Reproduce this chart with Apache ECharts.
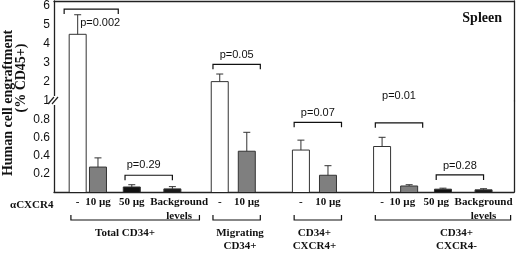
<!DOCTYPE html>
<html>
<head>
<meta charset="utf-8">
<script src="https://cdn.jsdelivr.net/npm/echarts@6/dist/echarts.min.js"></script>
<style>html,body{margin:0;padding:0;background:#fff}#c{width:520px;height:253px}</style>
</head>
<body>
<div id="c"></div>
<script>
// ---- data ----
const doseLabels = ['-', '10 µg', '50 µg', 'Background\nlevels', '-', '10 µg', '-', '10 µg', '-', '10 µg', '50 µg', 'Background\nlevels'];
const doseKind = ['none', '10', '50', 'bg', 'none', '10', 'none', '10', 'none', '10', '50', 'bg'];
const means = [4.51, 0.274, 0.055, 0.034, 2.02, 0.448, 0.461, 0.184, 0.50, 0.066, 0.031, 0.024];
const errs = [1.03, 0.101, 0.025, 0.025, 0.40, 0.208, 0.109, 0.105, 0.101, 0.014, 0.011, 0.012];
const groupNames = ['Total CD34+', 'Migrating\nCD34+', 'CD34+\nCXCR4+', 'CD34+\nCXCR4-'];
const pLabels = ['p=0.002', 'p=0.29', 'p=0.05', 'p=0.07', 'p=0.01', 'p=0.28'];
const pHeights = [5.84, 0.184, 2.93, 0.766, 0.76, 0.188];
const upperTicks = [1, 2, 3, 4, 5, 6];
const lowerTicks = [0.2, 0.4, 0.6, 0.8];

// ---- layout (category slots) ----
const slotCount = 68;
const barSlots = [3, 6, 11, 17, 24, 28, 36, 40, 48, 52, 57, 63];
const doseLabelSlots = [3, 6, 11, 18, 24, 28, 36, 40, 48, 51, 56, 63];
const groupSpans = [[2, 21], [23, 30], [35, 42], [47, 67]];
const groupLabelSlots = [10, 27, 38, 59];
const pSpans = [[1, 9], [10, 17], [23, 30], [35, 42], [47, 54], [56, 63]];
const pLabelLayout = [
  {dx: 16, dy: 14, align: 'left'}, {dx: -5, dy: -10}, {dx: 0, dy: -9},
  {dx: 0, dy: -9}, {dx: 0, dy: -27}, {dx: 0, dy: -9}
];
const colors = {none: '#ffffff', '10': '#7f7f7f', '50': '#111111', bg: '#1a1a1a'};
const LINE = '#222';
const SERIF = '"Liberation Serif", "DejaVu Serif", serif';
const SANS = '"Liberation Sans", Arial, sans-serif';
const BAR_W = 17;

const doseCats = Array.from({length: slotCount}, (_, i) => {
  const k = doseLabelSlots.indexOf(i); return k >= 0 ? doseLabels[k] : '';
});
const groupCats = Array.from({length: slotCount}, (_, i) => {
  const k = groupLabelSlots.indexOf(i); return k >= 0 ? groupNames[k] : '';
});
const blankCats = Array.from({length: slotCount}, () => '');

const barData = means.map((v, k) => [barSlots[k], v, k]);
const errData = means.map((v, k) => [barSlots[k], v, errs[k]]);
const pData = pHeights.map((h, k) => [pSpans[k][0], h, pSpans[k][1], k]);

function renderBar(params, api) {
  const slot = api.value(0), v = api.value(1), k = api.value(2);
  const cs = params.coordSys;
  const t = api.coord([slot, v]);
  const b = api.coord([slot, 0]);
  const x = t[0];
  let y1 = t[1], y2 = b[1];
  const topVisible = y1 >= cs.y - 0.5;
  y1 = Math.max(y1, cs.y); y2 = Math.min(y2, cs.y + cs.height);
  if (y2 - y1 <= 0.2) return null;
  const xl = x - BAR_W / 2, xr = x + BAR_W / 2;
  const children = [{type: 'rect', shape: {x: xl, y: y1, width: BAR_W, height: y2 - y1}, style: {fill: colors[doseKind[k]]}}];
  if (topVisible) {
    children.push({type: 'polyline', shape: {points: [[xl, y2], [xl, y1], [xr, y1], [xr, y2]]}, style: {stroke: '#333', lineWidth: 1, fill: null}});
  } else {
    children.push({type: 'line', shape: {x1: xl, y1: y1, x2: xl, y2: y2}, style: {stroke: '#333', lineWidth: 1}});
    children.push({type: 'line', shape: {x1: xr, y1: y1, x2: xr, y2: y2}, style: {stroke: '#333', lineWidth: 1}});
  }
  return {type: 'group', children};
}

function renderErr(params, api) {
  const slot = api.value(0), v = api.value(1), e = api.value(2);
  const cs = params.coordSys;
  const p0 = api.coord([slot, v]), p1 = api.coord([slot, v + e]);
  if (p1[1] < cs.y - 1 || p0[1] > cs.y + cs.height + 1) return null;
  return {type: 'group', children: [
    {type: 'line', shape: {x1: p0[0], y1: p0[1], x2: p1[0], y2: p1[1]}, style: {stroke: '#333', lineWidth: 1}},
    {type: 'line', shape: {x1: p1[0] - 3.5, y1: p1[1], x2: p1[0] + 3.5, y2: p1[1]}, style: {stroke: '#333', lineWidth: 1}}
  ]};
}

function renderP(params, api) {
  const a = api.value(0), h = api.value(1), b = api.value(2), k = api.value(3);
  const cs = params.coordSys;
  const p1 = api.coord([a, h]), p2 = api.coord([b, h]);
  const y = p1[1];
  if (y < cs.y - 1 || y > cs.y + cs.height + 1) return null;
  const L = pLabelLayout[k];
  const tx = L.align === 'left' ? p1[0] + L.dx : (p1[0] + p2[0]) / 2 + L.dx;
  return {type: 'group', children: [
    {type: 'polyline', shape: {points: [[p1[0], y + 5], [p1[0], y], [p2[0], y], [p2[0], y + 5]]}, style: {stroke: '#111', lineWidth: 1.2, fill: null}},
    {type: 'text', style: {text: pLabels[k], x: tx, y: y + L.dy, align: L.align || 'center', verticalAlign: 'middle', textAlign: L.align || 'center', textVerticalAlign: 'middle', font: '11px ' + SANS, fill: '#111'}}
  ]};
}

function renderGroup(params, api) {
  const a = api.value(0), b = api.value(1);
  const cs = params.coordSys;
  const x1 = api.coord([a, 0])[0], x2 = api.coord([b, 0])[0];
  const y = cs.y + cs.height + 28;
  return {type: 'polyline', shape: {points: [[x1, y - 5], [x1, y], [x2, y], [x2, y - 5]]}, style: {stroke: '#111', lineWidth: 1.2, fill: null}};
}

const hiddenAxisParts = {axisTick: {show: false}, splitLine: {show: false}};
const frameLine = {show: true, onZero: false, lineStyle: {color: LINE, width: 1.3}};

const option = {
  animation: false,
  backgroundColor: '#fff',
  title: {text: 'Spleen', right: 13, top: 6, textStyle: {fontFamily: SERIF, fontWeight: 'bold', fontSize: 14, color: '#111'}},
  grid: [
    {left: 54, right: 6, top: 1, height: 100},
    {left: 54, right: 6, top: 101, height: 96}
  ],
  xAxis: [
    {type: 'category', gridIndex: 0, data: blankCats, position: 'top', axisLine: frameLine, axisLabel: {show: false}, ...hiddenAxisParts},
    {type: 'category', gridIndex: 1, data: doseCats, position: 'bottom', axisLine: frameLine,
      axisLabel: {interval: 0, margin: 3, fontFamily: SERIF, fontWeight: 'bold', fontSize: 11, lineHeight: 14, color: '#111'}, ...hiddenAxisParts},
    {type: 'category', gridIndex: 1, data: groupCats, position: 'bottom', offset: 35, axisLine: {show: false},
      axisLabel: {interval: 0, margin: 0, fontFamily: SERIF, fontWeight: 'bold', fontSize: 11, lineHeight: 13, color: '#111'}, ...hiddenAxisParts}
  ],
  yAxis: [
    {type: 'value', gridIndex: 0, min: 1, max: 1 + 100 / 19, interval: 1, axisLine: frameLine,
      axisLabel: {margin: 4, fontFamily: SANS, fontSize: 12, color: '#111',
        formatter: v => upperTicks.some(t => Math.abs(t - v) < 1e-6) ? String(Math.round(v)) : ''}, ...hiddenAxisParts},
    {type: 'value', gridIndex: 1, min: 0, max: 1, interval: 0.2, axisLine: frameLine,
      axisLabel: {margin: 4, fontFamily: SANS, fontSize: 12, color: '#111',
        formatter: v => lowerTicks.some(t => Math.abs(t - v) < 1e-6) ? v.toFixed(1) : ''}, ...hiddenAxisParts},
    {type: 'value', gridIndex: 0, position: 'right', min: 0, max: 1, axisLine: frameLine, axisLabel: {show: false}, ...hiddenAxisParts},
    {type: 'value', gridIndex: 1, position: 'right', min: 0, max: 1, axisLine: frameLine, axisLabel: {show: false}, ...hiddenAxisParts}
  ],
  series: [
    {type: 'custom', name: 'bars-upper', xAxisIndex: 0, yAxisIndex: 0, data: barData.filter(d => d[1] > 1), renderItem: renderBar, encode: {x: 0, y: 1}},
    {type: 'custom', name: 'bars-lower', xAxisIndex: 1, yAxisIndex: 1, data: barData, renderItem: renderBar, encode: {x: 0, y: 1}},
    {type: 'custom', name: 'err-upper', xAxisIndex: 0, yAxisIndex: 0, data: errData.filter(d => d[1] > 1), renderItem: renderErr, encode: {x: 0, y: 1}, z: 3},
    {type: 'custom', name: 'err-lower', xAxisIndex: 1, yAxisIndex: 1, data: errData.filter(d => d[1] <= 1), renderItem: renderErr, encode: {x: 0, y: 1}, z: 3},
    {type: 'custom', name: 'p-upper', xAxisIndex: 0, yAxisIndex: 0, data: pData.filter(d => d[1] > 1), renderItem: renderP, encode: {x: 0, y: 1}, z: 4},
    {type: 'custom', name: 'p-lower', xAxisIndex: 1, yAxisIndex: 1, data: pData.filter(d => d[1] <= 1), renderItem: renderP, encode: {x: 0, y: 1}, z: 4},
    {type: 'custom', name: 'groups', xAxisIndex: 1, yAxisIndex: 1, data: groupSpans.map(s => [s[0], s[1]]), renderItem: renderGroup, encode: {x: 0}, clip: false, z: 4}
  ],
  graphic: [
    {type: 'text', x: 8, y: 103, rotation: Math.PI / 2, style: {text: 'Human cell engraftment', font: 'bold 14px ' + SERIF, fill: '#111', align: 'center', verticalAlign: 'middle', textAlign: 'center', textVerticalAlign: 'middle'}},
    {type: 'text', x: 21, y: 78, rotation: Math.PI / 2, style: {text: '(% CD45+)', font: 'bold 14px ' + SERIF, fill: '#111', align: 'center', verticalAlign: 'middle', textAlign: 'center', textVerticalAlign: 'middle'}},
    {type: 'text', x: 10, y: 205, style: {text: 'αCXCR4', font: 'bold 11px ' + SERIF, fill: '#111', align: 'left', verticalAlign: 'middle', textAlign: 'left', textVerticalAlign: 'middle'}},
    {type: 'rect', shape: {x: 50, y: 96, width: 9, height: 9}, style: {fill: '#fff'}, z: 100},
    {type: 'line', shape: {x1: 48, y1: 104, x2: 54, y2: 97}, style: {stroke: '#222', lineWidth: 1.2}, z: 101},
    {type: 'line', shape: {x1: 52, y1: 104, x2: 58, y2: 97}, style: {stroke: '#222', lineWidth: 1.2}, z: 101}
  ]
};

const chart = echarts.init(document.getElementById('c'), null, {renderer: 'canvas', width: 520, height: 253});
chart.setOption(option);
</script>
</body>
</html>
